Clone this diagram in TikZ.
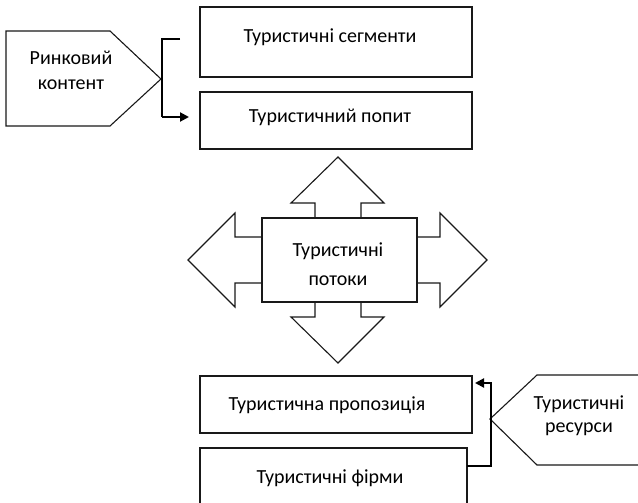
\documentclass[tikz,border=0pt]{standalone}
\usepackage{fontspec}
\setmainfont{Carlito}
\usetikzlibrary{arrows.meta}
\begin{document}
\begin{tikzpicture}[x=1pt,y=-1pt,
  shape line/.style={draw=black!90,line width=1.1pt,line join=miter},
  boxnode/.style={shape line,inner sep=0pt},
  lbl/.style={font=\fontsize{20}{25}\selectfont,align=center,inner sep=0pt},
  conn/.style={line width=2pt,-{Triangle[length=9pt,width=9pt]}},
  bracket/.style={line width=2pt},
]
\clip (0,0) rectangle (638,503);
\fill[white] (0,0) rectangle (638,503);

% top boxes
\node[boxnode,minimum width=272pt,minimum height=70pt] (seg) at (336,42) {};
\node[lbl] (segt) at (330,37) {Туристичні сегменти};
\node[boxnode,minimum width=272pt,minimum height=57pt] (pop) at (336,120.5) {};
\node[lbl] (popt) at (330,117) {Туристичний попит};

% market content pentagon
\draw[shape line] (6,31) -- (110,31) -- (161,79) -- (110,126) -- (6,126) -- cycle;
\node[lbl] (rk) at (71,70) {Ринковий\\контент};
\coordinate (brtop) at (180,39);
\coordinate (brbot) at (162,117);
\coordinate (poparr) at (189,117);
\draw[bracket] (brtop) -- (162,39) -- (brbot);
\draw[conn] (brbot) -- (poparr);

% centre box with four arrows
\node[boxnode,minimum width=155pt,minimum height=84pt] (flow) at (339.5,260) {};
\node[lbl,font=\fontsize{20}{29}\selectfont] (flowt) at (338,264) {Туристичні\\потоки};
\draw[shape line] (315,218) -- (315,203) -- (291,203) -- (338,157) -- (384,203) -- (361,203) -- (361,218);
\draw[shape line] (417,237) -- (440,237) -- (440,213) -- (487,260) -- (440,307) -- (440,283) -- (417,283);
\draw[shape line] (361,302) -- (361,317) -- (384,317) -- (338,363) -- (291,317) -- (315,317) -- (315,302);
\draw[shape line] (262,283) -- (235,283) -- (235,307) -- (188,260) -- (235,213) -- (235,237) -- (262,237);

% bottom boxes
\node[boxnode,minimum width=272pt,minimum height=57pt] (prop) at (336,404.5) {};
\node[lbl] (propt) at (327,405) {Туристична пропозиція};
\node[boxnode,minimum width=267pt,minimum height=80pt] (firm) at (333.5,488) {};
\node[lbl] (firmt) at (330,478) {Туристичні фірми};

% resources pentagon
\draw[shape line] (660,375) -- (537,375) -- (490,419) -- (537,465) -- (660,465);
\node[lbl,font=\fontsize{20}{23}\selectfont] (res) at (579,416) {Туристичні\\ресурси};

\coordinate (firmout) at (467,466);
\coordinate (proparr) at (475,383);
\draw[conn] (firmout) -- (491,466) -- (491,383) -- (proparr);
\end{tikzpicture}
\end{document}
